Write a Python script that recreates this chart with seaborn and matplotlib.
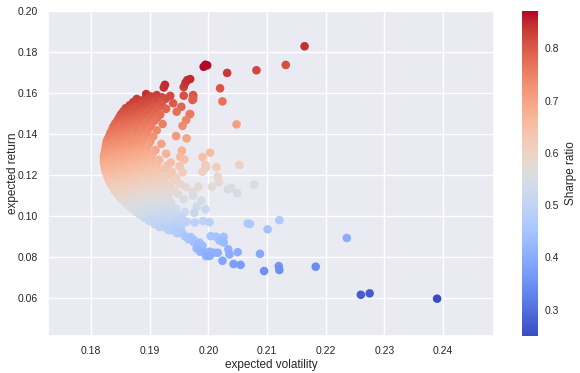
import matplotlib
matplotlib.use('Agg')
import matplotlib.pyplot as plt
import seaborn as sns
import pandas as pd

# portfolios near the top of the cloud
vol_upper = [0.1926,
             0.1924, 0.1958,
             0.1961,
             0.1964,
             0.1894, 0.1912, 0.1958,
             0.1902, 0.1921, 0.1935, 0.1974,
             0.1878, 0.1889, 0.1899, 0.1910, 0.1927, 0.1973,
             0.1872, 0.1881, 0.1893, 0.1904, 0.1918, 0.1940,
             0.1866, 0.1876, 0.1886, 0.1897, 0.1908, 0.1921, 0.1954,
             0.1859, 0.1869, 0.1880, 0.1891, 0.1903, 0.1914, 0.1928,
             0.1855, 0.1864, 0.1874, 0.1885, 0.1896, 0.1910, 0.1946]
ret_upper = [0.1640,
             0.1627, 0.1629,
             0.1650,
             0.1663,
             0.1595, 0.1590, 0.1587,
             0.1583, 0.1579, 0.1586, 0.1582,
             0.1571, 0.1566, 0.1574, 0.1568, 0.1572, 0.1566,
             0.1556, 0.1559, 0.1552, 0.1557, 0.1553, 0.1550,
             0.1541, 0.1538, 0.1544, 0.1539, 0.1536, 0.1542, 0.1533,
             0.1526, 0.1522, 0.1528, 0.1524, 0.1521, 0.1527, 0.1523,
             0.1511, 0.1507, 0.1513, 0.1509, 0.1506, 0.1512, 0.1509]

vol_middle = [0.1851, 0.1860, 0.1870, 0.1881, 0.1892, 0.1905, 0.1918, 0.1968,
              0.1848, 0.1857, 0.1867, 0.1877, 0.1889, 0.1899, 0.1913,
              0.1845, 0.1853, 0.1862, 0.1873, 0.1884, 0.1895, 0.1908, 0.1962,
              0.1841, 0.1850, 0.1860, 0.1870, 0.1880, 0.1891, 0.1903, 0.1922,
              0.1838, 0.1847, 0.1857, 0.1867, 0.1877, 0.1888, 0.1900, 0.1956,
              0.1836, 0.1844, 0.1853, 0.1864, 0.1874, 0.1885, 0.1897, 0.1912,
              0.1833, 0.1842, 0.1851, 0.1861, 0.1871, 0.1883, 0.1895,
              0.1831, 0.1840, 0.1849, 0.1859, 0.1869, 0.1880, 0.1891, 0.1906, 0.1945,
              0.1829, 0.1838, 0.1847, 0.1857, 0.1867, 0.1878, 0.1889, 0.1963,
              0.1827, 0.1836, 0.1845, 0.1855, 0.1865, 0.1876, 0.1887, 0.1901,
              0.1826, 0.1834, 0.1843, 0.1853, 0.1863, 0.1874, 0.1885, 0.1898, 0.1920]
ret_middle = [0.1496, 0.1493, 0.1498, 0.1494, 0.1497, 0.1492, 0.1495, 0.1496,
              0.1481, 0.1478, 0.1483, 0.1479, 0.1482, 0.1477, 0.1480,
              0.1466, 0.1463, 0.1468, 0.1464, 0.1467, 0.1462, 0.1465, 0.1468,
              0.1451, 0.1448, 0.1453, 0.1449, 0.1452, 0.1447, 0.1450, 0.1449,
              0.1436, 0.1433, 0.1438, 0.1434, 0.1437, 0.1432, 0.1435, 0.1440,
              0.1421, 0.1418, 0.1423, 0.1419, 0.1422, 0.1417, 0.1420, 0.1418,
              0.1406, 0.1403, 0.1408, 0.1404, 0.1407, 0.1402, 0.1405,
              0.1391, 0.1388, 0.1393, 0.1389, 0.1392, 0.1387, 0.1390, 0.1388, 0.1390,
              0.1379, 0.1376, 0.1381, 0.1377, 0.1380, 0.1375, 0.1378, 0.1379,
              0.1366, 0.1363, 0.1368, 0.1364, 0.1367, 0.1362, 0.1365, 0.1363,
              0.1351, 0.1348, 0.1353, 0.1349, 0.1352, 0.1347, 0.1350, 0.1348, 0.1352]

vol_lower = [0.1825, 0.1833, 0.1842, 0.1851, 0.1861, 0.1872, 0.1883, 0.1895,
             0.1824, 0.1832, 0.1841, 0.1850, 0.1860, 0.1870, 0.1881, 0.1893, 0.1910, 0.1955,
             0.1823, 0.1831, 0.1840, 0.1849, 0.1859, 0.1869, 0.1880, 0.1892, 0.1905, 0.1928,
             0.1822, 0.1830, 0.1839, 0.1848, 0.1858, 0.1868, 0.1879, 0.1890, 0.1903, 0.1952,
             0.1822, 0.1830, 0.1839, 0.1848, 0.1857, 0.1867, 0.1878, 0.1889, 0.1901, 0.1916, 0.1959,
             0.1822, 0.1830, 0.1838, 0.1847, 0.1857, 0.1867, 0.1877, 0.1889, 0.1900, 0.1913, 0.1936,
             0.1823, 0.1831, 0.1839, 0.1848, 0.1857, 0.1867, 0.1877, 0.1888, 0.1899, 0.1911, 0.1930, 0.1951,
             0.1824, 0.1832, 0.1840, 0.1849, 0.1858, 0.1868, 0.1878, 0.1889, 0.1900, 0.1912, 0.1925,
             0.1825, 0.1833, 0.1841, 0.1850, 0.1859, 0.1869, 0.1879, 0.1890, 0.1902, 0.1915, 0.1938, 0.1956,
             0.1827, 0.1835, 0.1843, 0.1852, 0.1861, 0.1871, 0.1881, 0.1892, 0.1904, 0.1918, 0.1933]
ret_lower = [0.1336, 0.1333, 0.1338, 0.1334, 0.1337, 0.1332, 0.1335, 0.1333,
             0.1321, 0.1318, 0.1323, 0.1319, 0.1322, 0.1317, 0.1320, 0.1318, 0.1322, 0.1319,
             0.1306, 0.1303, 0.1308, 0.1304, 0.1307, 0.1302, 0.1305, 0.1303, 0.1307, 0.1304,
             0.1291, 0.1288, 0.1293, 0.1289, 0.1292, 0.1287, 0.1290, 0.1288, 0.1292, 0.1289,
             0.1276, 0.1273, 0.1278, 0.1274, 0.1277, 0.1272, 0.1275, 0.1273, 0.1277, 0.1274, 0.1276,
             0.1261, 0.1258, 0.1263, 0.1259, 0.1262, 0.1257, 0.1260, 0.1258, 0.1262, 0.1259, 0.1261,
             0.1246, 0.1243, 0.1248, 0.1244, 0.1247, 0.1242, 0.1245, 0.1243, 0.1247, 0.1244, 0.1246, 0.1243,
             0.1231, 0.1228, 0.1233, 0.1229, 0.1232, 0.1227, 0.1230, 0.1228, 0.1232, 0.1229, 0.1231,
             0.1216, 0.1213, 0.1218, 0.1214, 0.1217, 0.1212, 0.1215, 0.1213, 0.1217, 0.1214, 0.1216, 0.1213,
             0.1201, 0.1198, 0.1203, 0.1199, 0.1202, 0.1197, 0.1200, 0.1198, 0.1202, 0.1199, 0.1201]

vol_bottom = [0.1829, 0.1837, 0.1845, 0.1854, 0.1863, 0.1873, 0.1883, 0.1894, 0.1906, 0.1921, 0.1945,
              0.1831, 0.1839, 0.1848, 0.1857, 0.1866, 0.1876, 0.1886, 0.1897, 0.1909, 0.1924, 0.1940,
              0.1834, 0.1842, 0.1851, 0.1860, 0.1869, 0.1879, 0.1889, 0.1900, 0.1912, 0.1928, 0.1952,
              0.1837, 0.1845, 0.1854, 0.1863, 0.1872, 0.1882, 0.1892, 0.1903, 0.1916, 0.1935, 0.1962,
              0.1840, 0.1849, 0.1858, 0.1867, 0.1876, 0.1886, 0.1896, 0.1907, 0.1920, 0.1942,
              0.1844, 0.1853, 0.1862, 0.1871, 0.1880, 0.1890, 0.1900, 0.1911, 0.1925, 0.1948,
              0.1848, 0.1857, 0.1866, 0.1875, 0.1885, 0.1895, 0.1905, 0.1917, 0.1932,
              0.1853, 0.1862, 0.1871, 0.1880, 0.1890, 0.1900, 0.1911, 0.1924, 0.1958,
              0.1858, 0.1867, 0.1876, 0.1886, 0.1896, 0.1906, 0.1918, 0.1937,
              0.1863, 0.1872, 0.1882, 0.1892, 0.1902, 0.1913, 0.1929,
              0.1869, 0.1878, 0.1888, 0.1898, 0.1909, 0.1922, 0.1945,
              0.1876, 0.1885, 0.1895, 0.1905, 0.1917, 0.1934, 0.1960,
              0.1883, 0.1893, 0.1903, 0.1913, 0.1926, 0.1948]
ret_bottom = [0.1186, 0.1183, 0.1188, 0.1184, 0.1187, 0.1182, 0.1185, 0.1183, 0.1187, 0.1184, 0.1186,
              0.1171, 0.1168, 0.1173, 0.1169, 0.1172, 0.1167, 0.1170, 0.1168, 0.1172, 0.1169, 0.1171,
              0.1156, 0.1153, 0.1158, 0.1154, 0.1157, 0.1152, 0.1155, 0.1153, 0.1157, 0.1154, 0.1156,
              0.1141, 0.1138, 0.1143, 0.1139, 0.1142, 0.1137, 0.1140, 0.1138, 0.1142, 0.1139, 0.1141,
              0.1126, 0.1123, 0.1128, 0.1124, 0.1127, 0.1122, 0.1125, 0.1123, 0.1127, 0.1124,
              0.1111, 0.1108, 0.1113, 0.1109, 0.1112, 0.1107, 0.1110, 0.1108, 0.1112, 0.1109,
              0.1096, 0.1093, 0.1098, 0.1094, 0.1097, 0.1092, 0.1095, 0.1093, 0.1097,
              0.1081, 0.1078, 0.1083, 0.1079, 0.1082, 0.1077, 0.1080, 0.1078, 0.1082,
              0.1066, 0.1063, 0.1068, 0.1064, 0.1067, 0.1062, 0.1065, 0.1063,
              0.1051, 0.1048, 0.1053, 0.1049, 0.1052, 0.1047, 0.1050,
              0.1036, 0.1033, 0.1038, 0.1034, 0.1037, 0.1032, 0.1035,
              0.1021, 0.1018, 0.1023, 0.1019, 0.1022, 0.1017, 0.1020,
              0.1006, 0.1003, 0.1008, 0.1004, 0.1007, 0.1002]

# the low-return tail
vol_tail = [0.1891, 0.1901, 0.1911, 0.1922, 0.1936, 0.1955,
            0.1899, 0.1909, 0.1920, 0.1931, 0.1946, 0.1963, 0.1977, 0.1991, 0.2002,
            0.1908, 0.1918, 0.1929, 0.1941, 0.1956,
            0.1917, 0.1927, 0.1938, 0.1950,
            0.1932, 0.1942, 0.1953,
            0.1947, 0.1957,
            0.1960, 0.1970, 0.2004, 0.2013, 0.2026,
            0.1966, 0.1975, 0.2019,
            0.1975, 0.1985, 0.2026,
            0.1982, 0.1990, 0.1980,
            0.1986, 0.1995, 0.2002, 0.2009, 0.2016, 0.1996, 0.2002]
ret_tail = [0.0991, 0.0988, 0.0993, 0.0989, 0.0992, 0.0990,
            0.0976, 0.0973, 0.0978, 0.0974, 0.0977, 0.0972, 0.0968, 0.0976, 0.0970,
            0.0961, 0.0958, 0.0963, 0.0959, 0.0962,
            0.0946, 0.0943, 0.0948, 0.0944,
            0.0931, 0.0928, 0.0933,
            0.0916, 0.0913,
            0.0901, 0.0898, 0.0902, 0.0899, 0.0899,
            0.0887, 0.0884, 0.0880,
            0.0873, 0.0870, 0.0872,
            0.0858, 0.0855, 0.0842,
            0.0826, 0.0821, 0.0826, 0.0821, 0.0821, 0.0805, 0.0805]

# scattered portfolios to the right
vol_out = [0.2164, 0.2132, 0.2082, 0.2032, 0.1995, 0.1998, 0.1992, 0.2020, 0.2024, 0.2048,
           0.1974, 0.1974, 0.1969, 0.1969, 0.2003, 0.1990, 0.1995, 0.1996, 0.1990, 0.2014,
           0.2053, 0.2016, 0.2018, 0.1983, 0.2006, 0.1974, 0.1974, 0.2033, 0.2039, 0.2049,
           0.2078, 0.1988, 0.1980, 0.1995, 0.1976, 0.2067, 0.2071, 0.2121, 0.2101, 0.2236,
           0.2026, 0.2034, 0.2036, 0.2050, 0.2088, 0.2024, 0.2043, 0.2055, 0.2095, 0.2120,
           0.2121, 0.2183, 0.2260, 0.2275, 0.2390]
ret_out = [0.1828, 0.1737, 0.1711, 0.1698, 0.1738, 0.1735, 0.1728, 0.1623, 0.1559, 0.1447,
           0.1590, 0.1570, 0.1668, 0.1498, 0.1309, 0.1288, 0.1249, 0.1238, 0.1216, 0.1238,
           0.1249, 0.1192, 0.1164, 0.1143, 0.1143, 0.1118, 0.1099, 0.1130, 0.1137, 0.1111,
           0.1153, 0.1075, 0.1045, 0.1033, 0.1016, 0.0964, 0.0961, 0.0980, 0.0935, 0.0893,
           0.0872, 0.0838, 0.0813, 0.0824, 0.0816, 0.0782, 0.0766, 0.0762, 0.0732, 0.0756,
           0.0737, 0.0753, 0.0616, 0.0623, 0.0597]

x_ticks = [0.18, 0.19, 0.20, 0.21, 0.22, 0.23, 0.24]
y_ticks = [0.06, 0.08, 0.10, 0.12, 0.14, 0.16, 0.18, 0.20]

sns.set_theme(style='darkgrid')
plt.rcParams['font.family'] = ['Liberation Sans', 'DejaVu Sans']

df = pd.DataFrame({
    'volatility': vol_upper + vol_middle + vol_lower + vol_bottom + vol_tail + vol_out,
    'returns': ret_upper + ret_middle + ret_lower + ret_bottom + ret_tail + ret_out,
})
df['sharpe'] = df['returns'] / df['volatility']

fig = plt.figure(figsize=(5.8, 3.73), dpi=100)
ax = fig.add_axes([48/580, 37/373, 446/580, 325/373])
cax = fig.add_axes([522/580, 37/373, 16/580, 325/373])

norm = plt.Normalize(df['sharpe'].min(), df['sharpe'].max())
sns.scatterplot(data=df, x='volatility', y='returns', hue='sharpe', palette='coolwarm',
                hue_norm=norm, s=38, linewidth=0, legend=False, ax=ax)

ax.set_xlim(0.17266, 0.2487)
ax.set_ylim(0.0415, 0.20)
ax.set_xticks(x_ticks)
ax.set_yticks(y_ticks)
ax.tick_params(labelsize=7.5, pad=1.5)
ax.set_xlabel('expected volatility', fontsize=8.5, labelpad=2)
ax.set_ylabel('expected return', fontsize=8.5, labelpad=-1)

sm = plt.cm.ScalarMappable(cmap='coolwarm', norm=norm)
cb = fig.colorbar(sm, cax=cax)
cb.outline.set_visible(False)
cb.set_label('Sharpe ratio', fontsize=8.5, labelpad=4)
cax.tick_params(labelsize=7.5, length=0, pad=5)

fig.savefig('out.png', dpi=100)
